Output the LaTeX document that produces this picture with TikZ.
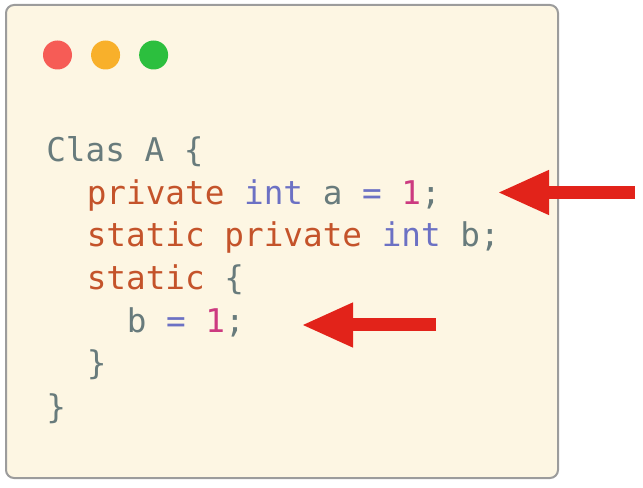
\documentclass[tikz,border=0pt]{standalone}
\usepackage{fontspec}
\setmonofont{DejaVu Sans Mono}
\usepackage{xcolor}
\usetikzlibrary{calc, positioning, arrows.meta}
\definecolor{paper}{HTML}{FDF6E3}
\definecolor{frame}{HTML}{9C9C9C}
\definecolor{plain}{HTML}{687B7C}
\definecolor{keyword}{HTML}{C4532A}
\definecolor{typename}{HTML}{6C71C4}
\definecolor{number}{HTML}{CC3A80}
\definecolor{arrowred}{HTML}{E2231A}
\definecolor{dotred}{HTML}{F65C56}
\definecolor{dotyellow}{HTML}{F8B02B}
\definecolor{dotgreen}{HTML}{2CBF3E}

\begin{document}
\begin{tikzpicture}[x=0.75pt, y=-0.75pt, font=\ttfamily\fontsize{24.5}{30}\selectfont]
		\tikzstyle{code}=[anchor=base west, inner sep=0pt]
		\tikzstyle{dot}=[circle, minimum size=21.75pt, inner sep=0pt]
		\tikzstyle{pointer}=[draw=arrowred, line width=9.75pt, -{Triangle[length=39pt, width=30.75pt]}]
		
		\useasboundingbox (0,0) rectangle (643,488);
		\draw[draw=frame, fill=paper, line width=1.5pt, rounded corners=6pt] (6,5) rectangle (558,478);
		
		% window buttons
		\node[dot, fill=dotred] (close) at (57.5,55) {};
		\node[dot, fill=dotyellow, right=13.9pt of close] (minimize) {};
		\node[dot, fill=dotgreen, right=13.9pt of minimize] (zoom) {};
		
		% code lines
		\node[code] (l1) at (46,162) {\textcolor{plain}{Clas A \{}};
		\node[code] (l2) at (86.5,205) {\textcolor{keyword}{private} \textcolor{typename}{int} \textcolor{plain}{a} \textcolor{typename}{=} \textcolor{number}{1}\textcolor{plain}{;}};
		\node[code] (l3) at (86.5,247) {\textcolor{keyword}{static private} \textcolor{typename}{int} \textcolor{plain}{b;}};
		\node[code] (l4) at (86.5,290) {\textcolor{keyword}{static} \textcolor{plain}{\{}};
		\node[code] (l5) at (126.5,333) {\textcolor{plain}{b} \textcolor{typename}{=} \textcolor{number}{1}\textcolor{plain}{;}};
		\node[code] (l6) at (86.5,375) {\textcolor{plain}{\}}};
		\node[code] (l7) at (46,418) {\textcolor{plain}{\}}};
		
		% pointers
		\coordinate (tip1) at ($(l2.base east)+(56,-12.5)$);
		\coordinate (tail1) at ($(tip1)+(138,0)$);
		\coordinate (tip2) at ($(l5.base east)+(56,-8)$);
		\coordinate (tail2) at ($(tip2)+(135,0)$);
		
		\draw[pointer] (tail1) -- (tip1);
		\draw[pointer] (tail2) -- (tip2);
\end{tikzpicture}
\end{document}
